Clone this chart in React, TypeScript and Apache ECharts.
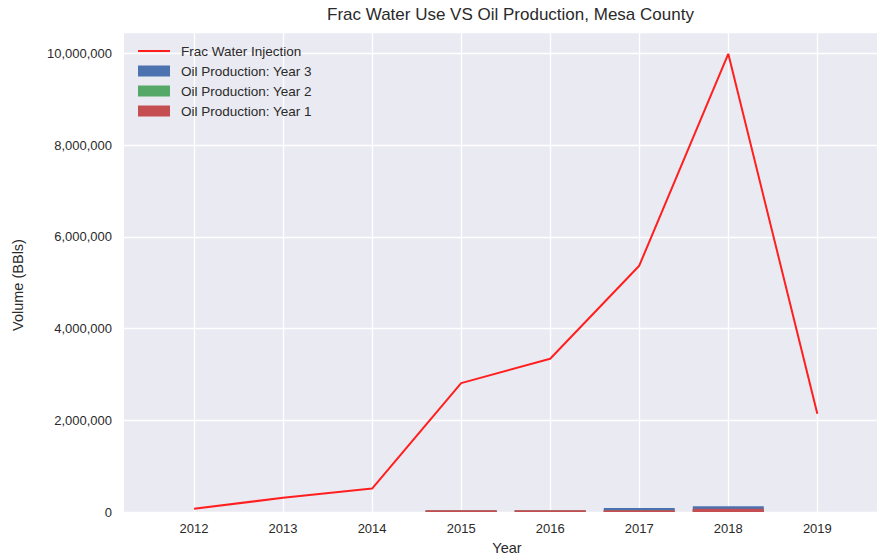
import React, { useEffect, useRef } from "react";
import * as echarts from "echarts";

const years = [2012, 2013, 2014, 2015, 2016, 2017, 2018, 2019];
const fracWater = [70000, 310000, 510000, 2810000, 3340000, 5370000, 9990000, 2140000];
const oilYears = [2015, 2016, 2017, 2018];
const oilYear3 = [30000, 30000, 85000, 125000];
const oilYear2 = [35000, 35000, 35000, 60000];
const oilYear1 = [40000, 40000, 40000, 70000];
const yTicks = [0, 2000000, 4000000, 6000000, 8000000, 10000000];

const fmt = (v: number) => v.toLocaleString("en-US");

export default function App() {
  const ref = useRef<HTMLDivElement>(null);
  useEffect(() => {
    if (!ref.current) return;
    const chart = echarts.init(ref.current, undefined, { renderer: "svg" });
    const font = "Liberation Sans, Arial, sans-serif";
    const txt = "#2a2a2a";
    const pair = (xs: number[], ys: number[]) => xs.map((x, i) => [x, ys[i]]);
    chart.setOption({
      animation: false,
      textStyle: { fontFamily: font },
      title: {
        text: "Frac Water Use VS Oil Production, Mesa County",
        left: 322,
        top: 1,
        textStyle: { fontSize: 17, fontWeight: "normal", color: txt, fontFamily: font },
      },
      legend: {
        orient: "vertical",
        left: 137,
        top: 44,
        padding: 0,
        itemWidth: 32,
        itemHeight: 11,
        itemGap: 6,
        textStyle: { fontSize: 13.5, color: txt, fontFamily: font, padding: [0, 0, 0, 6] },
        data: [
          { name: "Frac Water Injection", itemStyle: { opacity: 0 } },
          { name: "Oil Production: Year 3", icon: "rect" },
          { name: "Oil Production: Year 2", icon: "rect" },
          { name: "Oil Production: Year 1", icon: "rect" },
        ],
      },
      graphic: [
        {
          type: "text",
          x: 18,
          y: 285,
          rotation: Math.PI / 2,
          style: {
            text: "Volume (BBls)",
            fill: txt,
            fontSize: 14.5,
            fontFamily: font,
            align: "center",
            verticalAlign: "middle",
          },
        },
        {
          type: "text",
          x: 507,
          y: 548,
          style: {
            text: "Year",
            fill: txt,
            fontSize: 14.5,
            fontFamily: font,
            align: "center",
            verticalAlign: "middle",
          },
        },
      ],
      grid: {
        left: 124,
        right: 0,
        top: 32,
        bottom: 46,
        show: true,
        backgroundColor: "#EAEAF2",
        borderWidth: 0,
        outerBoundsMode: "none",
        containLabel: false,
      },
      xAxis: {
        type: "value",
        min: 2011.214,
        max: 2019.67,
        axisLine: { show: false },
        axisTick: { show: false, customValues: years },
        axisLabel: {
          customValues: years,
          fontSize: 13,
          color: txt,
          margin: 10,
          fontFamily: font,
          formatter: (v: number) => String(v),
        },
        splitLine: { show: true, lineStyle: { color: "#ffffff", width: 1.3 } },
      },
      yAxis: {
        type: "value",
        min: 0,
        max: 10465000,
        interval: 2000000,
        axisLine: { show: false },
        axisTick: { show: false },
        axisLabel: {
          fontSize: 13,
          color: txt,
          margin: 12,
          fontFamily: font,
          showMaxLabel: false,
          formatter: (v: number) => (yTicks.indexOf(v) >= 0 ? fmt(v) : ""),
        },
        splitLine: { show: true, lineStyle: { color: "#ffffff", width: 1.3 } },
      },
      series: [
        {
          name: "Frac Water Injection",
          type: "line",
          data: pair(years, fracWater),
          symbol: "none",
          lineStyle: { color: "#ff1f1f", width: 2 },
          itemStyle: { color: "#ff1f1f" },
          z: 5,
        },
        {
          name: "Oil Production: Year 3",
          type: "bar",
          data: pair(oilYears, oilYear3),
          barWidth: 71,
          barGap: "-100%",
          itemStyle: { color: "#4C72B0" },
        },
        {
          name: "Oil Production: Year 2",
          type: "bar",
          data: pair(oilYears, oilYear2),
          barWidth: 71,
          barGap: "-100%",
          itemStyle: { color: "#55A868" },
        },
        {
          name: "Oil Production: Year 1",
          type: "bar",
          data: pair(oilYears, oilYear1),
          barWidth: 71,
          barGap: "-100%",
          itemStyle: { color: "#C44E52" },
        },
      ],
    });
    return () => chart.dispose();
  }, []);
  return (
    <div
      ref={ref}
      style={{ position: "fixed", left: 0, top: 0, width: 877, height: 558, background: "#fff" }}
    />
  );
}
